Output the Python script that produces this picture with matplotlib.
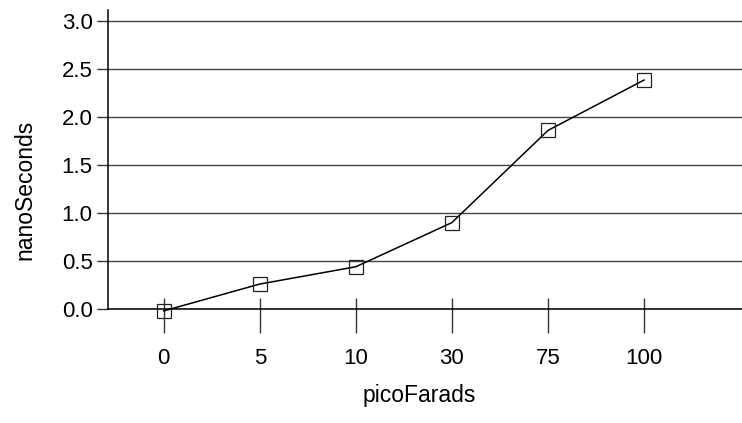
import matplotlib
matplotlib.use("Agg")
import matplotlib.pyplot as plt
import numpy as np
from matplotlib.ticker import FixedLocator

categories = ["0", "5", "10", "30", "75", "100"]
values = [-0.02, 0.26, 0.44, 0.90, 1.86, 2.385]
y_ticks = [0.0, 0.5, 1.0, 1.5, 2.0, 2.5, 3.0]
x_label = "picoFarads"
y_label = "nanoSeconds"

plt.rcParams['font.family'] = ['Liberation Sans', 'DejaVu Sans']

W, H = 742, 423
fig = plt.figure(figsize=(W / 100, H / 100), dpi=100)
left, right, bottom, top = 108, 742, 309, 10
ax = fig.add_axes([left / W, 1 - bottom / H, (right - left) / W, (bottom - top) / H])

x = np.arange(len(categories))
ax.set_xlim(-0.58, 6.02)
ax.set_ylim(0, 3.0 + 11 / 96)

for yv in y_ticks:
    ax.axhline(yv, color="#444444", lw=1.0, zorder=1)

ax.plot(x, values, color="black", lw=1.1, zorder=3, clip_on=False)
ax.plot(x, values, linestyle="none", marker="s", markersize=10, markerfacecolor="none",
        markeredgecolor="#222222", markeredgewidth=0.9, zorder=4, clip_on=False)

for s in ["top", "right"]:
    ax.spines[s].set_visible(False)
ax.spines["left"].set_color("black")
ax.spines["left"].set_linewidth(1.1)
ax.spines["bottom"].set_color("black")
ax.spines["bottom"].set_linewidth(1.1)

ax.set_yticks(y_ticks)
ax.set_yticklabels([f"{v:.1f}" for v in y_ticks])
ax.tick_params(axis="y", direction="out", length=8, width=1.0, pad=3, labelsize=16, color="#333333")

ax.set_xticks(x)
ax.set_xticklabels(categories)
ax.xaxis.remove_overlapping_locs = False
ax.xaxis.set_minor_locator(FixedLocator(x))
ax.tick_params(axis="x", which="major", direction="out", length=17, width=1.0, pad=11,
               labelsize=16, color="#333333")
ax.tick_params(axis="x", which="minor", direction="in", length=8, width=1.0, color="#333333")

ax.set_xlabel(x_label, fontsize=16.5)
ax.set_ylabel(y_label, fontsize=16.5)
ax.xaxis.label.set_verticalalignment("center")
ax.xaxis.set_label_coords((419 - left) / (right - left), 1 - (395 - top) / (bottom - top))
ax.yaxis.label.set_verticalalignment("center")
ax.yaxis.set_label_coords((25 - left) / (right - left), 1 - (190 - top) / (bottom - top))

fig.savefig("out.png", dpi=100)
